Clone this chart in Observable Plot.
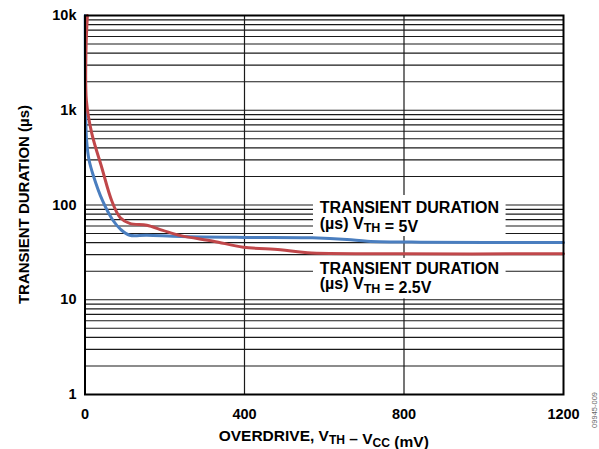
<!DOCTYPE html>
<html>
<head>
<meta charset="utf-8">
<script src="https://cdn.jsdelivr.net/npm/d3@7"></script>
<script src="https://cdn.jsdelivr.net/npm/@observablehq/plot@0.6"></script>
<style>
  html, body { margin: 0; padding: 0; background: #fff; }
  #chart { width: 599px; height: 449px; overflow: hidden; }
</style>
</head>
<body>
<div id="chart"></div>
<script>
// ---- data ----
const blueX = [0.5, 1, 2, 4, 10, 20, 44, 70, 90, 112, 155, 240, 400, 570, 657, 708, 841, 1200];
const blueY = [10000, 2000, 800, 480, 300, 210, 111, 69, 55, 48, 48, 46.5, 45.5, 45, 43.3, 41.5, 40.5, 40.3];

const redX = [6, 2.5, 3.5, 17, 42, 67, 88, 112, 155, 195, 240, 322, 397, 490, 558, 791, 1200];
const redY = [10000, 4270, 1260, 569, 249, 111, 74, 64, 61, 54, 47.5, 41.5, 35.9, 33.7, 31.3, 30.6, 30.5];

const xTicks = [0, 400, 800, 1200];
const xTickLabels = ["0", "400", "800", "1200"];
const yTicks = [1, 10, 100, 1000, 10000];
const yTickLabels = ["1", "10", "100", "1k", "10k"];
const gridY = [2,3,4,5,6,7,8,9, 10,20,30,40,50,60,70,80,90, 100,200,300,400,500,600,700,800,900, 1000,2000,3000,4000,5000,6000,7000,8000,9000, 10000];
const gridX = [400, 800];

// label boxes (data units) and label anchors
const boxX1 = [573, 573];
const boxX2 = [1056, 1056];
const boxY1 = [46.5, 10.2];
const boxY2 = [126, 27.3];
const labelX = [590, 590];
const labelY = [81, 18.5];
const labelLine1 = ["TRANSIENT DURATION", "TRANSIENT DURATION"];
const labelLine2Tail = [" = 5V", " = 2.5V"];

const blue = blueX.map((x, i) => ({x, y: blueY[i]}));
const red = redX.map((x, i) => ({x, y: redY[i]}));
const boxes = boxX1.map((x1, i) => ({x1, x2: boxX2[i], y1: boxY1[i], y2: boxY2[i]}));

const FONT = "'Liberation Sans', Arial, Helvetica, sans-serif";

const plot = Plot.plot({
  width: 599,
  height: 449,
  marginTop: 15,
  marginBottom: 55,
  marginLeft: 84.5,
  marginRight: 36,
  style: {fontFamily: FONT, fontSize: "14.5px", fontWeight: "bold", color: "#000", background: "#fff", overflow: "visible"},
  x: {domain: [0, 1200]},
  y: {type: "log", domain: [1, 10000]},
  marks: [
    Plot.ruleY(gridY, {stroke: "#1a1a1a", strokeWidth: 1.2}),
    Plot.ruleX(gridX, {stroke: "#1a1a1a", strokeWidth: 1.2}),
    Plot.rect(boxes, {x1: d => d.x1, x2: d => d.x2, y1: d => d.y1, y2: d => d.y2, fill: "#fff"}),
    Plot.line(blue, {x: "x", y: "y", stroke: "#4a7ebf", strokeWidth: 3, curve: "catmull-rom"}),
    Plot.line(red, {x: "x", y: "y", stroke: "#c0474a", strokeWidth: 3, curve: "catmull-rom"}),
    Plot.frame({stroke: "#000", strokeWidth: 2}),
    Plot.axisX({ticks: xTicks, tickSize: 0, tickPadding: 14, label: null, fontWeight: "bold",
      tickFormat: d => xTickLabels[xTicks.indexOf(d)]}),
    Plot.axisY({ticks: yTicks, tickSize: 0, tickPadding: 8.5, label: null, fontWeight: "bold",
      tickFormat: d => yTickLabels[yTicks.indexOf(d)]})
  ]
});

document.getElementById("chart").appendChild(plot);

const svg = d3.select(plot);
const xs = plot.scale("x");
const ys = plot.scale("y");

function richText(g, parts, shift) {
  parts.forEach(([s, sub]) => {
    if (sub) {
      g.append("tspan").attr("dy", shift).attr("font-size", "0.78em").text(s);
      g.append("tspan").attr("dy", -shift).text("");
    } else {
      g.append("tspan").text(s);
    }
  });
}

// x axis title
const xt = svg.append("text")
  .attr("x", (xs.apply(0) + xs.apply(1200)) / 2)
  .attr("y", 440.5)
  .attr("text-anchor", "middle")
  .attr("font-family", FONT).attr("font-weight", "bold").attr("font-size", "15.5px").attr("fill", "#000");
richText(xt, [["OVERDRIVE, V", false], ["TH", true], [" \u2013 V", false], ["CC", true], [" (mV)", false]], 3);

// y axis title
svg.append("text")
  .attr("transform", `translate(28.5,${(ys.apply(1) + ys.apply(10000)) / 2}) rotate(-90)`)
  .attr("text-anchor", "middle")
  .attr("font-family", FONT).attr("font-weight", "bold").attr("font-size", "15px").attr("fill", "#000")
  .text("TRANSIENT DURATION (\u00b5s)");

// curve labels
labelX.forEach((lx, i) => {
  const px = xs.apply(lx), py = ys.apply(labelY[i]);
  svg.append("text")
    .attr("x", px).attr("y", py)
    .attr("text-anchor", "start")
    .attr("font-family", FONT).attr("font-weight", "bold").attr("font-size", "16px").attr("fill", "#000")
    .text(labelLine1[i]);
  const t2 = svg.append("text")
    .attr("x", px).attr("y", py + 15.5)
    .attr("text-anchor", "start")
    .attr("font-family", FONT).attr("font-weight", "bold").attr("font-size", "16px").attr("fill", "#000");
  richText(t2, [["(\u00b5s) V", false], ["TH", true], [labelLine2Tail[i], false]], 3.5);
});

// figure code at right edge
svg.append("text")
  .attr("transform", "translate(597,392) rotate(-90)")
  .attr("text-anchor", "end")
  .attr("font-family", FONT).attr("font-weight", "normal").attr("font-size", "7.5px").attr("fill", "#666")
  .text("09945-009");
</script>
</body>
</html>
